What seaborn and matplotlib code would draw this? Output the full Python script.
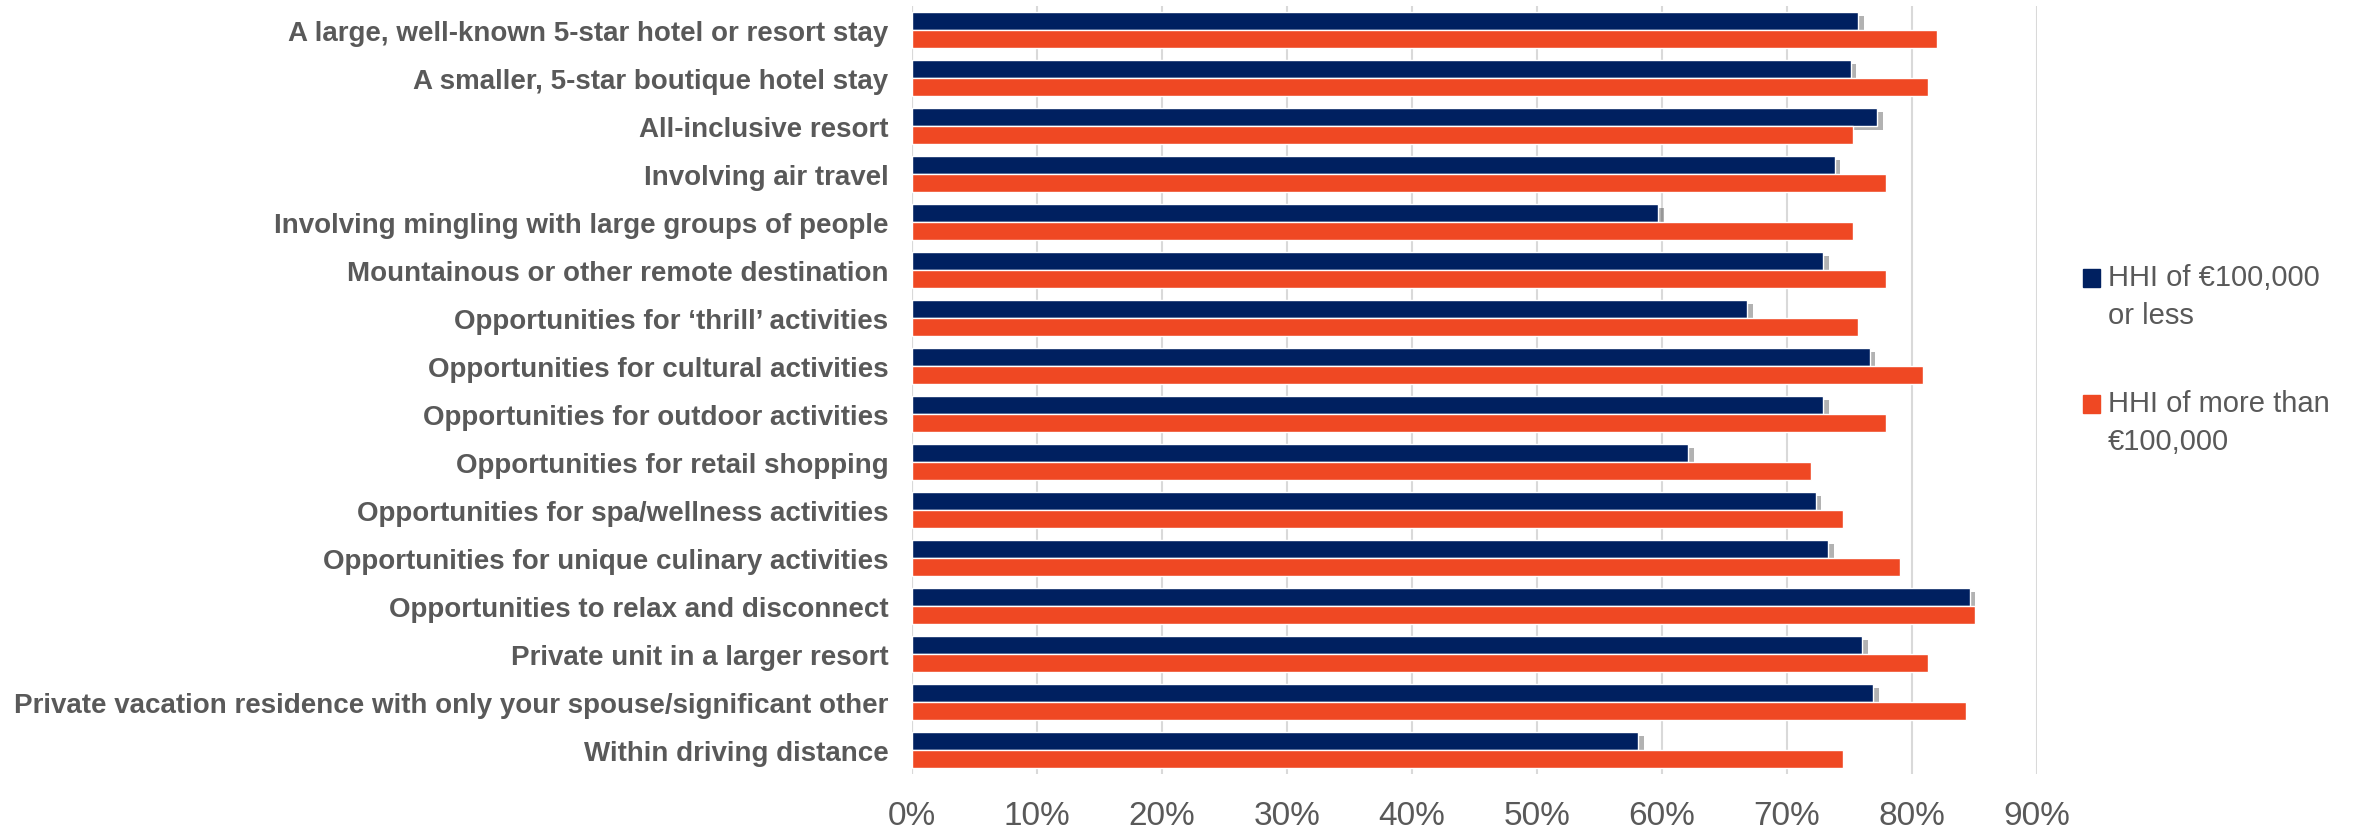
import pandas as pd
import matplotlib.pyplot as plt
import matplotlib.patheffects as pe
from matplotlib.patches import Rectangle
import seaborn as sns

categories = [
    'A large, well-known 5-star hotel or resort stay',
    'A smaller, 5-star boutique hotel stay',
    'All-inclusive resort',
    'Involving air travel',
    'Involving mingling with large groups of people',
    'Mountainous or other remote destination',
    'Opportunities for \u2018thrill\u2019 activities',
    'Opportunities for cultural activities',
    'Opportunities for outdoor activities',
    'Opportunities for retail shopping',
    'Opportunities for spa/wellness activities',
    'Opportunities for unique culinary activities',
    'Opportunities to relax and disconnect',
    'Private unit in a larger resort',
    'Private vacation residence with only your spouse/significant other',
    'Within driving distance',
]
low_income = [75.7, 75.1, 77.2, 73.8, 59.7, 72.9, 66.8, 76.6,
              72.9, 62.1, 72.3, 73.3, 84.6, 76.0, 76.9, 58.1]
high_income = [82.0, 81.3, 75.3, 77.9, 75.3, 77.9, 75.7, 80.9,
               77.9, 71.9, 74.5, 79.0, 85.0, 81.3, 84.3, 74.5]
series_names = ['HHI of \u20ac100,000\nor less', 'HHI of more than\n\u20ac100,000']
x_ticks = [0, 0.1, 0.2, 0.3, 0.4, 0.5, 0.6, 0.7, 0.8, 0.9]
x_labels = ['0%', '10%', '20%', '30%', '40%', '50%', '60%', '70%', '80%', '90%']

df = pd.DataFrame({
    'category': categories * 2,
    'share': [v / 100 for v in low_income + high_income],
    'group': [series_names[0]] * len(categories) + [series_names[1]] * len(categories),
})

sns.set_theme(style='white')
plt.rcParams['font.family'] = ['Liberation Sans', 'DejaVu Sans']

text_grey = '#595959'
navy = '#002060'
orange = '#EF4823'
colors = [navy, orange]

W, H = 2361, 828
fig = plt.figure(figsize=(W / 100, H / 100), dpi=100)
ax = fig.add_axes([912 / W, 1 - 775 / H, (2037 - 912) / W, (775 - 7) / H])

sns.barplot(data=df, y='category', x='share', hue='group', orient='h',
            palette=colors, width=0.75, saturation=1, ax=ax, legend=False)

# soft shadow on the dark bars
for bar in ax.containers[0]:
    bar.set_path_effects([pe.withSimplePatchShadow(offset=(4, -3), shadow_rgbFace='black', alpha=0.3)])

ax.set_xlim(0, 0.9)
ax.set_ylim(15.5, -0.5)
ax.set_xticks(x_ticks)
ax.set_xticklabels(x_labels)
ax.set_xlabel('')
ax.set_ylabel('')
ax.xaxis.grid(True, color='#D9D9D9', linewidth=1.5)
ax.yaxis.grid(False)
ax.set_axisbelow(True)
for s in ax.spines.values():
    s.set_visible(False)
ax.axvline(0, color='#D9D9D9', linewidth=1.5, zorder=0)

ax.tick_params(axis='y', length=0, pad=17, labelsize=20, labelcolor=text_grey)
ax.tick_params(axis='x', length=0, pad=19, labelsize=24, labelcolor=text_grey)
for lbl in ax.get_yticklabels():
    lbl.set_fontweight('bold')

# legend: square aligned with first text line, as in the original
for i, (name, c) in enumerate(zip(series_names, colors)):
    yc = 279 + i * 126
    fig.patches.append(Rectangle((2083 / W, 1 - (yc + 9) / H), 17 / W, 18 / H,
                                 transform=fig.transFigure, color=c))
    fig.text(2108 / W, 1 - (yc - 15) / H, name, va='top', ha='left',
             fontsize=21, color=text_grey, linespacing=1.45)

fig.savefig('out.png', dpi=100)
